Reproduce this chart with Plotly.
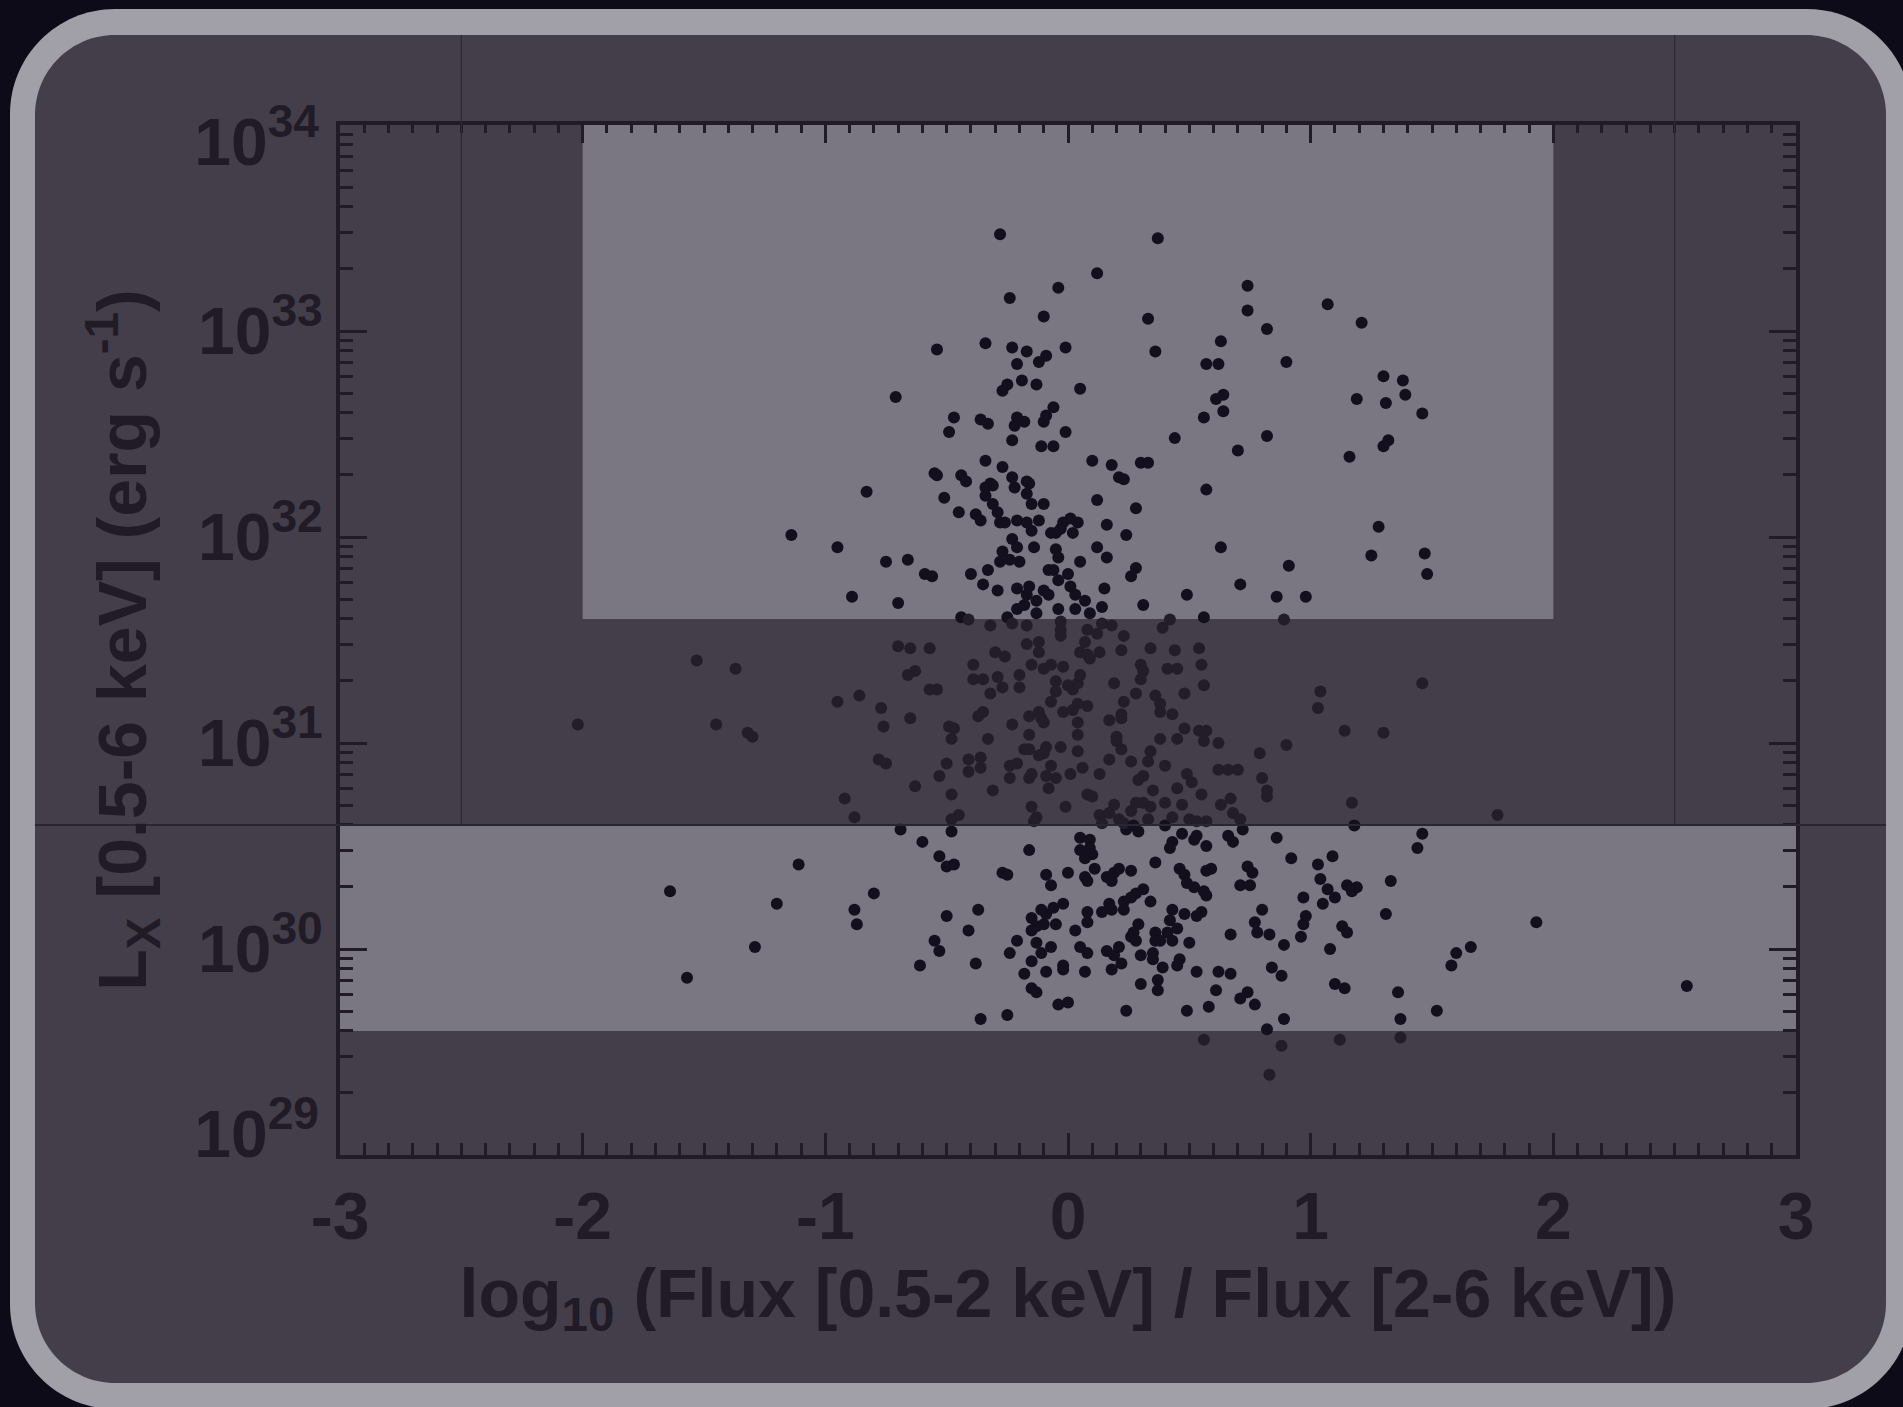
import numpy as np
import plotly.graph_objects as go

# ---------------------------------------------------------------------------
# Sources: hardness ratio log10(F[0.5-2 keV] / F[2-6 keV]) and log10 L_X [erg/s]
# ---------------------------------------------------------------------------
hardness = [
    # bright, hard/soft mixed group
    -0.54, -0.71, -0.55, -0.54, -0.83,
    -0.28, 0.37, 0.12, -0.04, -0.24, 0.74, 1.07, 0.74, -0.10, 0.33,
    0.82, 0.63, 0.90, -0.34, -0.23, -0.17, -0.09, -0.12, -0.21, -0.01,
    0.36, 0.57, 0.62, -0.25, -0.27, -0.19, -0.13, 0.05, 0.61, 0.64,
    0.56, 0.64, -0.47, -0.36, -0.33, -0.21, -0.18, -0.22, -0.09, -0.10,
    -0.06, -0.01, -0.49, -0.23, -0.11, -0.06, 0.44, 0.82, 0.70, 0.10,
    0.18, 0.30, 0.33, 0.21, 0.23, 0.57, -0.34, -0.27, -0.44, -0.42,
    -0.32, -0.31, -0.23, -0.22, -0.17, -0.16, -0.34, -0.17, -0.51, -0.34,
    1.21, 1.30, 1.38, 1.39, 1.19, 1.31, 1.46, 1.32, 1.30, 1.16,
    # left wing
    -1.14, -0.95, -0.75, -0.66, -0.59, -0.56, -0.89, -0.70, -0.70, -0.65,
    -0.57, -1.53, -1.37, -0.63, -0.66, -0.57, -0.54, -0.95, -0.86, -0.77,
    -0.65, -2.02, -1.45, -1.32, -1.30, -0.76, -0.78, -0.75, -0.53, -0.63,
    -0.92,
    -0.88, -0.69, -0.60, -0.53, -1.11, -1.64, -0.80, -1.20, -0.88, -0.87,
    -1.29, -0.55, -0.53, -0.61, -1.57,
    # right wing
    1.28, 1.25, 1.47, 1.48, 1.46, 1.14, 1.30,
    1.17, 1.77, 1.18, 1.46, 1.44, 1.33, 1.15, 1.19, 1.17, 1.31,
    1.93, 1.13, 1.15, 1.66, 1.60, 1.58, 2.55, 1.14, 1.36, 1.52,
    1.37, 1.37, 1.12,
    # central column, upper part
    -0.31, -0.29, -0.15, -0.10, 0.12, 0.28, -0.45, -0.38, -0.36, -0.28,
    -0.26, -0.21, -0.17, -0.15, -0.12, -0.07, -0.05, -0.03, -0.02, 0.01,
    0.04, 0.02, 0.16, 0.24, -0.23, -0.21, -0.27, -0.28, -0.24, -0.20,
    -0.14, -0.05, -0.04, 0.05, 0.12, 0.16, 0.63, 0.91, -0.40, -0.33,
    -0.35, -0.29, -0.08, -0.06, -0.04, 0.00, 0.28, 0.26, -0.21, -0.16,
    -0.17, -0.13, -0.10, -0.08, -0.18, -0.21, -0.13, 0.01, 0.03, 0.15,
    0.71, 0.49, 0.86, 0.98, 0.31, -0.04, 0.03, 0.07, 0.09, 0.14,
    -0.44, -0.41, -0.25, -0.23, -0.32, -0.17, -0.03, -0.03, -0.03, 0.08,
    0.12, 0.14, 0.18, 0.39, 0.42, 0.56, 0.89, 0.23, -0.17, -0.12,
    -0.12, -0.30, -0.26, 0.05, 0.07, 0.08, 0.09, 0.13, 0.22, 0.34,
    0.44, 0.54, -0.15, -0.10, -0.07, -0.02, -0.39, -0.39, -0.35, 0.30,
    0.31, 0.41, 0.45, 0.55, -0.29, -0.27, -0.20, -0.20, -0.32, -0.05,
    -0.05, 0.00, 0.02, 0.04, 0.05, 0.19, 0.30, 0.28, 0.36, 0.48,
    0.56, 1.04, 1.03, -0.07, -0.02, 0.02, 0.04, 0.08, 0.23, 0.22,
    0.22, 0.38, 0.38, 0.43, -0.37, -0.35, -0.16, -0.12, -0.11, -0.10,
    0.04, 0.17, -0.23, -0.49, -0.47, -0.48, 0.48, 0.54, 0.57, 0.56,
    0.45, -0.33, -0.16, 0.04, 0.20, 0.20, 0.38, 0.62, 0.90, -0.18,
    -0.16, -0.09, -0.10, -0.12, -0.03, 0.22, 0.04, 0.79, 0.34, -0.41,
    -0.36, -0.36, -0.41, -0.50, 0.17, 0.26, 0.33, -0.24, -0.21, -0.07,
    0.06, 0.40, 0.49, 0.51, 0.62, 0.66, 0.70, -0.24, -0.16, -0.15,
    -0.09, -0.05, 0.01, 0.13, 0.31, 0.29, 0.80, -0.31, -0.08, 0.08,
    0.10, -0.48, 0.45, 0.35, 0.55, 0.82, 0.82, 0.67,
    # central column, lower part
    -0.15, -0.13, -0.14, -0.01, 0.13, 0.14, 0.17, 0.19, 0.21, 0.24,
    0.23, 0.27, 0.29, 0.26, 0.28, 0.31, 0.34, 0.33, 0.40, 0.40,
    0.43, 0.47, 0.50, 0.53, 0.57, 0.63, 0.68, 0.71, 0.72, -0.48,
    -0.45, -0.48, 0.05, 0.09, 0.05, 0.09, 0.07, 0.10, -0.16, 0.43,
    0.42, 0.47, 0.52, 0.53, 0.57, 0.66, 0.68, 0.86, 0.92, 1.03,
    1.09, -0.50, -0.47, 0.36, -0.27, -0.25, -0.09, -0.07, 0.00, 0.07,
    0.08, 0.11, 0.16, 0.19, 0.18, 0.21, 0.26, 0.46, 0.48, 0.49,
    0.52, 0.57, 0.59, 0.56, 0.57, 0.74, 0.76, 0.71, 0.75, 1.04,
    1.07, 1.10, 0.97, 0.31, 0.28, 0.26, 0.23, 0.34, -0.50, -0.37,
    -0.41, -0.15, -0.15, -0.13, -0.11, -0.09, -0.06, -0.10, -0.05, -0.02,
    0.03, 0.08, 0.08, 0.14, 0.17, 0.18, 0.23, 0.43, 0.42, 0.45,
    0.48, 0.53, 0.55, 0.80, 0.77, 0.78, 0.83, 0.98, 0.97, 0.96,
    1.05, 0.29, 0.27, 0.26, 0.28, 0.36, 0.38, 0.41, 0.43, 0.36,
    0.67, -0.21, -0.13, -0.07, -0.11, -0.15, -0.24, -0.38, 0.05, 0.08,
    0.16, 0.19, 0.22, 0.18, 0.21, 0.30, 0.35, 0.35, 0.46, 0.45,
    0.50, 0.89, 1.08, 0.07, -0.02, -0.02, -0.09, -0.18, 0.39, 0.53,
    0.62, 0.67, 0.84, 0.88, 1.10, 0.37, 0.37, 0.30, -0.15, -0.13,
    0.61, 0.74, 0.71, 0.77, 0.58, -0.04, 0.00, 0.24, 0.49, -0.36,
    -0.25, 0.89, 0.82, 0.56, 0.88, 0.83,
]

log_lx = [
    # bright, hard/soft mixed group
    32.91, 32.68, 32.31, 32.30, 32.22,
    33.47, 33.45, 33.28, 33.21, 33.16, 33.22, 33.13, 33.10, 33.07, 33.06,
    33.01, 32.95, 32.85, 32.94, 32.92, 32.90, 32.88, 32.85, 32.84, 32.92,
    32.90, 32.84, 32.84, 32.74, 32.71, 32.76, 32.74, 32.72, 32.67, 32.69,
    32.58, 32.61, 32.58, 32.57, 32.55, 32.58, 32.56, 32.54, 32.59, 32.56,
    32.63, 32.51, 32.51, 32.47, 32.44, 32.44, 32.48, 32.49, 32.42, 32.37,
    32.35, 32.36, 32.36, 32.29, 32.28, 32.23, 32.37, 32.34, 32.30, 32.27,
    32.26, 32.25, 32.29, 32.24, 32.27, 32.26, 32.24, 32.21, 32.19, 32.20,
    33.04, 32.78, 32.76, 32.69, 32.67, 32.65, 32.60, 32.47, 32.44, 32.39,
    # left wing
    32.01, 31.95, 31.88, 31.89, 31.82, 31.81, 31.71, 31.68, 31.47, 31.46,
    31.46, 31.40, 31.36, 31.35, 31.33, 31.26, 31.26, 31.20, 31.23, 31.17,
    31.12, 31.09, 31.09, 31.05, 31.03, 31.08, 30.92, 30.90, 30.84, 30.79,
    30.73,
    30.64, 30.58, 30.52, 30.45, 30.41, 30.28, 30.27, 30.22, 30.19, 30.12,
    30.01, 30.04, 29.99, 29.92, 29.86,
    # right wing
    32.05, 31.91, 31.92, 31.82, 31.29, 31.06, 31.05,
    30.71, 30.65, 30.60, 30.56, 30.49, 30.33, 30.31, 30.30, 30.28, 30.17,
    30.13, 30.11, 30.08, 30.01, 29.98, 29.92, 29.82, 29.81, 29.79, 29.70,
    29.66, 29.57, 29.56,
    # central column, upper part
    32.16, 32.12, 32.16, 32.16, 32.18, 32.14, 32.12, 32.11, 32.08, 32.07,
    32.07, 32.08, 32.07, 32.03, 32.08, 32.02, 32.02, 32.04, 32.07, 32.09,
    32.07, 32.02, 32.06, 32.01, 31.99, 31.95, 31.93, 31.88, 31.89, 31.88,
    31.95, 31.94, 31.90, 31.88, 31.95, 31.90, 31.95, 31.86, 31.82, 31.84,
    31.77, 31.74, 31.84, 31.84, 31.79, 31.82, 31.85, 31.81, 31.75, 31.76,
    31.72, 31.69, 31.74, 31.72, 31.67, 31.65, 31.63, 31.76, 31.72, 31.75,
    31.77, 31.72, 31.71, 31.71, 31.67, 31.65, 31.65, 31.69, 31.63, 31.66,
    31.61, 31.60, 31.61, 31.58, 31.57, 31.57, 31.59, 31.55, 31.52, 31.55,
    31.53, 31.58, 31.57, 31.56, 31.60, 31.61, 31.60, 31.52, 31.48, 31.49,
    31.44, 31.44, 31.42, 31.44, 31.49, 31.43, 31.41, 31.44, 31.45, 31.46,
    31.45, 31.46, 31.38, 31.36, 31.38, 31.37, 31.38, 31.31, 31.31, 31.38,
    31.35, 31.36, 31.36, 31.38, 31.32, 31.27, 31.33, 31.27, 31.24, 31.30,
    31.25, 31.28, 31.26, 31.29, 31.33, 31.29, 31.31, 31.24, 31.23, 31.24,
    31.28, 31.25, 31.17, 31.20, 31.15, 31.16, 31.19, 31.18, 31.20, 31.14,
    31.12, 31.19, 31.15, 31.14, 31.13, 31.15, 31.13, 31.15, 31.12, 31.10,
    31.10, 31.11, 31.09, 31.08, 31.07, 31.02, 31.07, 31.06, 31.06, 31.01,
    31.02, 31.02, 31.04, 31.04, 31.03, 31.01, 31.02, 31.00, 30.99, 30.97,
    30.97, 30.98, 30.95, 30.94, 30.98, 30.97, 30.96, 30.95, 30.96, 30.92,
    30.93, 30.88, 30.86, 30.90, 30.92, 30.91, 30.91, 30.89, 30.90, 30.89,
    30.88, 30.89, 30.85, 30.81, 30.87, 30.87, 30.87, 30.83, 30.83, 30.85,
    30.84, 30.83, 30.85, 30.85, 30.84, 30.82, 30.83, 30.77, 30.78, 30.75,
    30.74, 30.75, 30.78, 30.77, 30.75, 30.77, 30.74, 30.73,
    # central column, lower part
    30.69, 30.64, 30.62, 30.69, 30.65, 30.61, 30.66, 30.70, 30.63, 30.58,
    30.61, 30.60, 30.57, 30.67, 30.71, 30.71, 30.69, 30.63, 30.71, 30.60,
    30.64, 30.70, 30.63, 30.62, 30.62, 30.70, 30.66, 30.63, 30.58, 30.63,
    30.65, 30.57, 30.54, 30.53, 30.48, 30.49, 30.44, 30.46, 30.48, 30.52,
    30.49, 30.56, 30.53, 30.55, 30.50, 30.55, 30.52, 30.54, 30.44, 30.41,
    30.45, 30.40, 30.41, 30.42, 30.37, 30.36, 30.36, 30.31, 30.37, 30.35,
    30.33, 30.39, 30.35, 30.37, 30.33, 30.39, 30.38, 30.39, 30.36, 30.32,
    30.30, 30.38, 30.39, 30.28, 30.26, 30.40, 30.37, 30.31, 30.31, 30.34,
    30.29, 30.25, 30.25, 30.29, 30.27, 30.25, 30.23, 30.23, 30.16, 30.19,
    30.09, 30.15, 30.09, 30.11, 30.19, 30.17, 30.20, 30.12, 30.12, 30.22,
    30.09, 30.18, 30.13, 30.18, 30.22, 30.19, 30.19, 30.19, 30.14, 30.10,
    30.17, 30.16, 30.18, 30.19, 30.13, 30.08, 30.07, 30.16, 30.12, 30.06,
    30.22, 30.12, 30.08, 30.06, 30.04, 30.08, 30.04, 30.08, 30.04, 30.04,
    30.07, 30.04, 30.03, 30.01, 29.98, 29.94, 29.98, 29.93, 30.01, 29.98,
    29.99, 29.97, 29.93, 29.90, 30.01, 29.97, 29.98, 29.95, 29.95, 29.92,
    30.03, 30.02, 30.00, 29.89, 29.92, 29.90, 29.89, 29.88, 29.91, 29.89,
    29.89, 29.88, 29.91, 29.87, 29.83, 29.85, 29.80, 29.83, 29.81, 29.79,
    29.80, 29.79, 29.76, 29.73, 29.72, 29.73, 29.74, 29.70, 29.70, 29.66,
    29.68, 29.66, 29.61, 29.56, 29.53, 29.39,
]

# Axis ticks and labels
x_tick_vals = [-3, -2, -1, 0, 1, 2, 3]
x_tick_text = ["-3", "-2", "-1", "0", "1", "2", "3"]
y_tick_vals = [1e30, 1e31, 1e32, 1e33]
y_tick_text = ["10<sup>30</sup>", "10<sup>31</sup>", "10<sup>32</sup>", "10<sup>33</sup>"]
y_top_label = ["10<sup>34</sup>"]
y_bottom_label = ["10<sup>29</sup>"]

# Highlighted selection windows
faint_window_lx = (4e29, 4e30)          # all hardness values
bright_window_lx = (4e31, 1e34)
bright_window_hr = (-2.0, 2.0)
guide_hr = (-2.5, 2.5)

X_RANGE = (-3, 3)
LOG_Y_RANGE = (29, 34)

# ---------------------------------------------------------------------------
hr = np.array(hardness)
lx = 10.0 ** np.array(log_lx)

in_window = ((lx >= faint_window_lx[0]) & (lx <= faint_window_lx[1])) | (
    (lx >= bright_window_lx[0]) & (hr >= bright_window_hr[0]) & (hr <= bright_window_hr[1])
)
dot_colors = np.where(in_window, "#130f1c", "#221d29")

INK = "#201b26"
PANEL = "#443e4a"
WINDOW = "#7a7682"
BORDER = "#a19fa8"
BACKDROP = "#0e0b19"
FONT = "Liberation Sans, Arial, Helvetica, sans-serif"

W, H = 1903, 1407
PL, PR, PT, PB = 340, 1796, 125, 1155   # plot area in pixels


def to_paper(px, py):
    return (px - PL) / (PR - PL), (PB - py) / (PB - PT)


def lx_to_paper(value):
    return (np.log10(value) - LOG_Y_RANGE[0]) / (LOG_Y_RANGE[1] - LOG_Y_RANGE[0])


def rounded_rect(x0, y0, x1, y1, r):
    k = 0.5523 * r

    def p(x, y):
        u, v = to_paper(x, y)
        return f"{u:.5f},{v:.5f}"

    return (
        f"M {p(x0 + r, y0)} L {p(x1 - r, y0)} "
        f"C {p(x1 - r + k, y0)} {p(x1, y0 + r - k)} {p(x1, y0 + r)} "
        f"L {p(x1, y1 - r)} "
        f"C {p(x1, y1 - r + k)} {p(x1 - r + k, y1)} {p(x1 - r, y1)} "
        f"L {p(x0 + r, y1)} "
        f"C {p(x0 + r - k, y1)} {p(x0, y1 - r + k)} {p(x0, y1 - r)} "
        f"L {p(x0, y0 + r)} "
        f"C {p(x0, y0 + r - k)} {p(x0 + r - k, y0)} {p(x0 + r, y0)} Z"
    )


shapes = [
    # card border and panel
    dict(type="path", xref="paper", yref="paper", layer="below",
         path=rounded_rect(10, 9, 1912, 1409, 105), fillcolor=BORDER, line=dict(width=0)),
    dict(type="path", xref="paper", yref="paper", layer="below",
         path=rounded_rect(35, 35, 1886, 1383, 80), fillcolor=PANEL, line=dict(width=0)),
]

# thin guide lines
panel_left, _ = to_paper(35, 0)
panel_right, _ = to_paper(1886, 0)
_, panel_top = to_paper(0, 35)
guide_y_paper = lx_to_paper(faint_window_lx[1])
shapes.append(dict(type="line", xref="paper", yref="paper", layer="above",
                   x0=panel_left, x1=panel_right, y0=guide_y_paper, y1=guide_y_paper,
                   line=dict(color="#2a2530", width=2)))
for gx in guide_hr:
    shapes.append(dict(type="line", xref="x", yref="paper", layer="above",
                       x0=gx, x1=gx, y0=guide_y_paper, y1=panel_top,
                       line=dict(color="#2e2935", width=1.3)))

fig = go.Figure()

# selection windows as filled regions under the sources
for (hx0, hx1), (ly0, ly1) in (
    (X_RANGE, faint_window_lx),
    (bright_window_hr, bright_window_lx),
):
    fig.add_trace(go.Scatter(
        x=[hx0, hx1, hx1, hx0, hx0], y=[ly0, ly0, ly1, ly1, ly0],
        mode="none", fill="toself", fillcolor=WINDOW,
        hoverinfo="skip", showlegend=False,
    ))

fig.add_trace(go.Scatter(
    x=hr, y=lx, mode="markers",
    marker=dict(size=12, color=dot_colors, line=dict(width=0)),
    hoverinfo="skip", showlegend=False,
))
# empty traces so the frame axes and end-label axes are drawn
for xa, ya in (("x", "y2"), ("x", "y3"), ("x2", "y"), ("x3", "y"), ("x", "y4")):
    fig.add_trace(go.Scatter(x=[], y=[], xaxis=xa, yaxis=ya, mode="markers",
                             hoverinfo="skip", showlegend=False))

tick_font = dict(family=FONT, size=66, color=INK, weight="bold")
title_font = dict(family=FONT, size=68, color=INK, weight="bold")

decades = [10.0 ** e for e in range(LOG_Y_RANGE[0], LOG_Y_RANGE[1] + 1)]
minor_y = [m * 10.0 ** e for e in range(LOG_Y_RANGE[0], LOG_Y_RANGE[1]) for m in range(2, 10)]
tenths = np.round(np.arange(X_RANGE[0], X_RANGE[1] + 0.05, 0.1), 1)
minor_x = [float(v) for v in tenths if abs(v - round(v)) > 1e-6]

frame_line = dict(showline=True, linewidth=4, linecolor=INK, showgrid=False,
                  zeroline=False, fixedrange=True)

end_axis = dict(
    type="log", range=list(LOG_Y_RANGE), overlaying="y", side="left", anchor="x",
    tickmode="array", ticks="", showline=False, showgrid=False, zeroline=False,
    tickfont=tick_font, ticklabelstandoff=20, fixedrange=True,
)

fig.update_layout(
    width=W, height=H, autosize=False,
    margin=dict(l=PL, r=W - PR, t=PT, b=H - PB, pad=0),
    paper_bgcolor=BACKDROP, plot_bgcolor="rgba(0,0,0,0)",
    shapes=shapes, showlegend=False,
    xaxis=dict(
        frame_line,
        range=list(X_RANGE), tickmode="array", tickvals=x_tick_vals, ticktext=x_tick_text,
        ticks="inside", ticklen=22, tickwidth=3, tickcolor=INK,
        tickfont=tick_font, ticklabelstandoff=1,
        minor=dict(tickmode="array", tickvals=minor_x, ticks="inside",
                   ticklen=12, tickwidth=3, tickcolor=INK, showgrid=False),
        title=dict(text="log<sub>10</sub> (Flux [0.5-2 keV] / Flux [2-6 keV])",
                   font=title_font, standoff=18),
    ),
    # top edge of the frame: major ticks
    xaxis2=dict(
        frame_line,
        range=list(X_RANGE), overlaying="x", side="top", anchor="y",
        tickmode="array", tickvals=x_tick_vals, showticklabels=False,
        ticks="inside", ticklen=18, tickwidth=3, tickcolor=INK,
    ),
    # top edge of the frame: tenth ticks
    xaxis3=dict(
        range=list(X_RANGE), overlaying="x", side="top", anchor="y",
        tickmode="array", tickvals=minor_x, showticklabels=False,
        ticks="inside", ticklen=8, tickwidth=3, tickcolor=INK,
        showline=False, showgrid=False, zeroline=False, fixedrange=True,
    ),
    yaxis=dict(
        frame_line,
        type="log", range=list(LOG_Y_RANGE), tickmode="array",
        tickvals=y_tick_vals, ticktext=y_tick_text,
        ticks="inside", ticklen=27, tickwidth=3, tickcolor=INK,
        tickfont=tick_font, ticklabelstandoff=0,
        minor=dict(tickmode="array", tickvals=minor_y, ticks="inside",
                   ticklen=13, tickwidth=3, tickcolor=INK, showgrid=False),
        title=dict(text="L<sub>X</sub> [0.5-6 keV] (erg s<sup>-1</sup>)",
                   font=title_font, standoff=30),
    ),
    # end labels of the luminosity axis sit slightly inside the frame
    yaxis2=dict(end_axis, tickvals=[decades[-1]], ticktext=y_top_label,
                ticklabelshift=17),
    yaxis3=dict(end_axis, tickvals=[decades[0]], ticktext=y_bottom_label,
                ticklabelshift=-21),
    # right edge of the frame
    yaxis4=dict(
        frame_line,
        type="log", range=list(LOG_Y_RANGE), overlaying="y", side="right", anchor="x",
        tickmode="array", tickvals=decades, showticklabels=False,
        ticks="inside", ticklen=27, tickwidth=3, tickcolor=INK,
        minor=dict(tickmode="array", tickvals=minor_y, ticks="inside",
                   ticklen=13, tickwidth=3, tickcolor=INK, showgrid=False),
    ),
)

fig.write_html("out.html")
